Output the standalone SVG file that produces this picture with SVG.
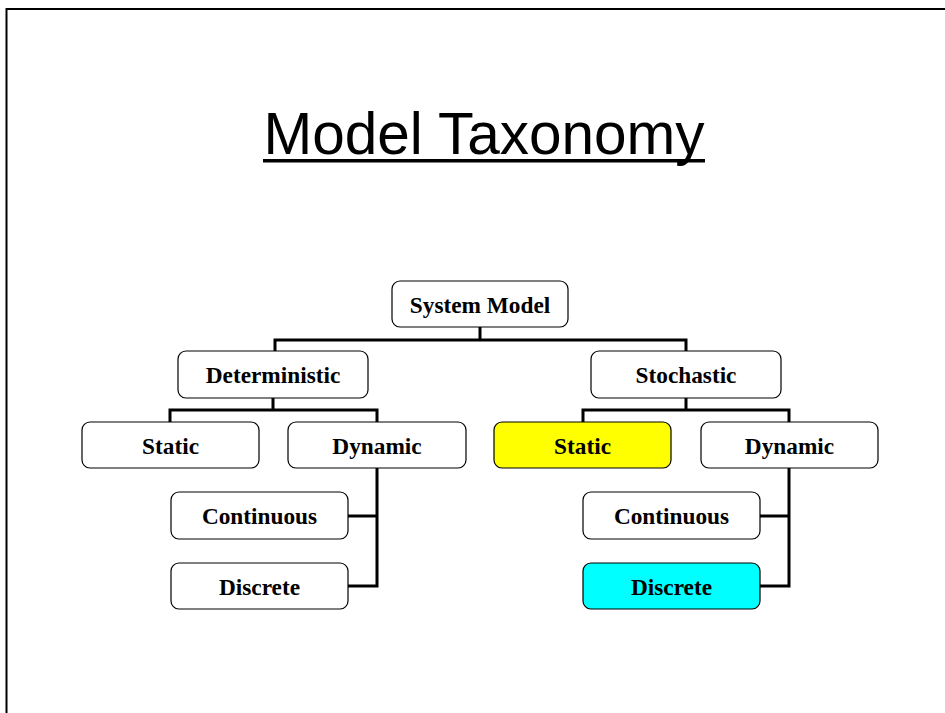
<svg xmlns="http://www.w3.org/2000/svg" width="945" height="713" viewBox="0 0 945 713">
<style>
.box{fill:#fff;stroke:#000;stroke-width:1.2}
.lbl{font-family:"Liberation Serif","Times New Roman",serif;font-weight:bold;font-size:23.3px;text-anchor:middle;fill:#000}
.con{fill:none;stroke:#000;stroke-width:3;stroke-linejoin:miter;stroke-linecap:square}
</style>
<rect width="945" height="713" fill="#fff"/>
<path d="M6.5,713 V9 H945" fill="none" stroke="#000" stroke-width="2"/>
<text x="484" y="154" font-family="Liberation Sans, Arial, sans-serif" font-size="58.5" text-anchor="middle">Model Taxonomy</text>
<rect x="263" y="159" width="442" height="3.5" fill="#000"/>
<g id="connectors">
<path class="con" d="M480,327 V340 M275,340 H686 M275,340 V351 M686,340 V351"/>
<path class="con" d="M273,398 V410 M170,410 H377 M170,410 V422 M377,410 V422"/>
<path class="con" d="M686,398 V410 M583,410 H789 M583,410 V422 M789,410 V422"/>
<path class="con" d="M377,468 V586 H348 M377,516 H348"/>
<path class="con" d="M789,468 V586 H760 M789,516 H760"/>
</g>
<g id="system-model"><rect class="box" x="392" y="281" width="176" height="46" rx="8"/><text class="lbl" x="480" y="313">System Model</text></g>
<g id="deterministic"><rect class="box" x="178" y="351" width="190" height="47" rx="8"/><text class="lbl" x="273" y="383">Deterministic</text></g>
<g id="stochastic"><rect class="box" x="591" y="351" width="190" height="47" rx="8"/><text class="lbl" x="686" y="383">Stochastic</text></g>
<g id="det-static"><rect class="box" x="82" y="422" width="177" height="46" rx="8"/><text class="lbl" x="170.5" y="454">Static</text></g>
<g id="det-dynamic"><rect class="box" x="288" y="422" width="178" height="46" rx="8"/><text class="lbl" x="377" y="454">Dynamic</text></g>
<g id="sto-static"><rect class="box" x="494" y="422" width="177" height="46" rx="8" style="fill:#ffff00"/><text class="lbl" x="582.5" y="454">Static</text></g>
<g id="sto-dynamic"><rect class="box" x="701" y="422" width="177" height="46" rx="8"/><text class="lbl" x="789.5" y="454">Dynamic</text></g>
<g id="det-continuous"><rect class="box" x="171" y="492" width="177" height="47" rx="8"/><text class="lbl" x="259.5" y="524">Continuous</text></g>
<g id="det-discrete"><rect class="box" x="171" y="563" width="177" height="46" rx="8"/><text class="lbl" x="259.5" y="595">Discrete</text></g>
<g id="sto-continuous"><rect class="box" x="583" y="492" width="177" height="47" rx="8"/><text class="lbl" x="671.5" y="524">Continuous</text></g>
<g id="sto-discrete"><rect class="box" x="583" y="563" width="177" height="46" rx="8" style="fill:#00ffff"/><text class="lbl" x="671.5" y="595">Discrete</text></g>
</svg>
